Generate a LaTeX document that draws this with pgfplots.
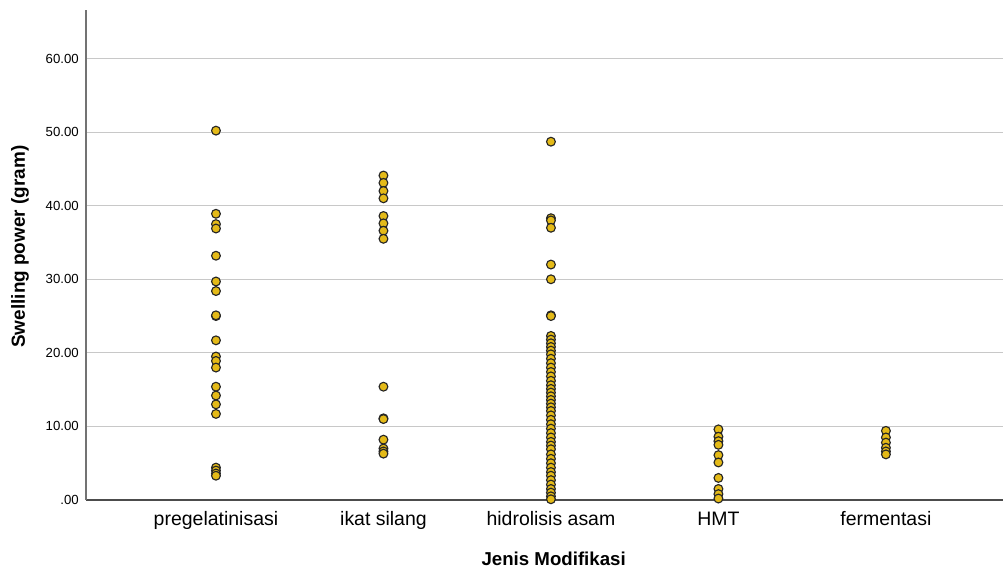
\documentclass[border=0pt]{standalone}
\usepackage{pgfplots}
\pgfplotsset{compat=1.18}
\usepackage{fontspec}
\setmainfont{Liberation Sans}
\definecolor{dotfill}{RGB}{228,186,24}
\definecolor{gridc}{RGB}{200,200,200}
\tikzset{dot/.style={only marks, mark=*, mark size=3.3pt, mark options={fill=dotfill, draw=black!85, line width=0.85pt}}}
\begin{document}
\begin{tikzpicture}
\begin{axis}[
  name=ax,
  scale only axis,
  width=687.75pt, height=367.5pt,
  xmin=-0.776, xmax=4.699,
  ymin=0, ymax=66.6,
  axis x line*=bottom,
  axis y line*=left,
  x axis line style={black!70, line width=0.8pt, -},
  y axis line style={black!55, line width=0.8pt, -},
  xtick={0,1,2,3,4},
  xticklabels={pregelatinisasi, ikat silang, hidrolisis asam, HMT, fermentasi},
  ytick={0,10,20,30,40,50,60},
  yticklabels={.00,10.00,20.00,30.00,40.00,50.00,60.00},
  major tick length=0pt,
  ymajorgrids,
  grid style={gridc, line width=0.9pt},
  xticklabel style={font=\fontsize{14.6pt}{16pt}\selectfont, anchor=base, yshift=-19.5pt, inner sep=0pt},
  yticklabel style={font=\fontsize{9.9pt}{11pt}\selectfont, anchor=east, inner sep=0pt, xshift=-5.25pt},
  xlabel={\textbf{Jenis Modifikasi}},
  ylabel={\textbf{Swelling power (gram)}},
  xlabel style={font=\fontsize{14pt}{16pt}\selectfont, at={(axis description cs:0.51,-0.1204)}, anchor=center},
  ylabel style={font=\fontsize{14.2pt}{16pt}\selectfont, at={(axis description cs:-0.072,0.517)}, anchor=center, rotate=0},
  clip=false,
]
\addplot[dot] coordinates {
 (0,50.2) (0,38.9) (0,37.5) (0,36.9) (0,33.2) (0,29.7) (0,28.4) (0,25.0) (0,25.1)
 (0,21.7) (0,19.5) (0,18.9) (0,18.0) (0,15.4) (0,14.2) (0,13.0) (0,11.7)
 (0,4.4) (0,4.0) (0,3.6) (0,3.3)
};
\addplot[dot] coordinates {
 (1,44.1) (1,43.1) (1,42.0) (1,41.0) (1,38.6) (1,37.6) (1,36.6) (1,35.5)
 (1,15.4) (1,11.1) (1,11.0) (1,8.2) (1,7.0) (1,6.6) (1,6.3)
};
\addplot[dot] coordinates {
 (2,48.7) (2,38.3) (2,38.0) (2,37.0) (2,32.0) (2,30.0) (2,25.1) (2,25.0)
 (2,22.3) (2,21.8) (2,21.3) (2,20.8) (2,20.3) (2,19.8) (2,19.2) (2,18.6)
 (2,18.0) (2,17.4) (2,16.8) (2,16.2) (2,15.6) (2,15.1) (2,14.6) (2,14.1)
 (2,13.6) (2,13.1) (2,12.6) (2,12.1) (2,11.5) (2,10.9) (2,10.3) (2,9.7)
 (2,9.1) (2,8.5) (2,7.9) (2,7.4) (2,6.9) (2,6.2) (2,5.6) (2,5.0)
 (2,4.4) (2,3.8) (2,3.3) (2,2.7) (2,2.1) (2,1.5) (2,1.0) (2,0.5) (2,0.1)
};
\addplot[dot] coordinates {
 (3,9.6) (3,8.6) (3,8.0) (3,7.5) (3,6.1) (3,5.1) (3,3.0) (3,1.5) (3,0.8) (3,0.2)
};
\addplot[dot] coordinates {
 (4,9.4) (4,8.5) (4,7.8) (4,7.1) (4,6.6) (4,6.2)
};
\end{axis}
\pgfresetboundingbox
\path[use as bounding box] ([xshift=-64.5pt,yshift=-52.5pt]ax.south west) rectangle ([xshift=0.75pt,yshift=7.5pt]ax.north east);
\end{tikzpicture}
\end{document}
